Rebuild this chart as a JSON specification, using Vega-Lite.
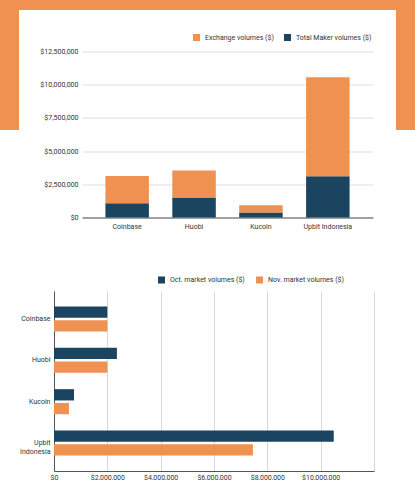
{
  "$schema": "https://vega.github.io/schema/vega-lite/v6.json",
  "padding": 0,
  "background": "white",
  "config": {
    "font": "Roboto",
    "view": {"stroke": null},
    "axis": {"labelFont": "Roboto", "labelFontSize": 7, "labelColor": "#333333", "titleFont": "Roboto"},
    "legend": {"labelFont": "Roboto", "labelFontSize": 7, "labelColor": "#333333"}
  },
  "resolve": {"scale": {"color": "independent"}, "legend": {"color": "independent"}},
  "spacing": 46,
  "vconcat": [
    {
      "spacing": 0,
      "resolve": {"scale": {"color": "independent"}, "legend": {"color": "independent"}},
      "vconcat": [
        {
          "width": 415,
          "height": 10,
          "view": {"fill": "#EF9150", "stroke": null},
          "data": {"values": []},
          "mark": {"type": "point", "opacity": 0}
        },
        {
          "spacing": 23,
          "resolve": {"scale": {"color": "independent"}, "legend": {"color": "independent"}},
          "hconcat": [
            {
              "spacing": 20,
              "resolve": {"scale": {"color": "independent"}, "legend": {"color": "independent"}},
              "hconcat": [
                {
                  "width": 19,
                  "height": 120,
                  "view": {"fill": "#EF9150", "stroke": null},
                  "data": {"values": []},
                  "mark": {"type": "point", "opacity": 0}
                },
                {
                  "spacing": 22.5,
                  "resolve": {"scale": {"color": "independent"}, "legend": {"color": "independent"}},
                  "vconcat": [
                    {
                      "width": 1,
                      "height": 1,
                      "data": {"values": []},
                      "mark": {"type": "point", "opacity": 0}
                    },
                    {
                      "width": 291,
                      "height": 166,
                      "data": {"values": [
                        {"exchange": "Coinbase", "series": "Total Maker volumes ($)", "volume": 1080000},
                        {"exchange": "Coinbase", "series": "Exchange volumes ($)", "volume": 2040000},
                        {"exchange": "Huobi", "series": "Total Maker volumes ($)", "volume": 1510000},
                        {"exchange": "Huobi", "series": "Exchange volumes ($)", "volume": 2020000},
                        {"exchange": "Kucoin", "series": "Total Maker volumes ($)", "volume": 380000},
                        {"exchange": "Kucoin", "series": "Exchange volumes ($)", "volume": 550000},
                        {"exchange": "Upbit Indonesia", "series": "Total Maker volumes ($)", "volume": 3100000},
                        {"exchange": "Upbit Indonesia", "series": "Exchange volumes ($)", "volume": 7470000}
                      ]},
                      "mark": {"type": "bar"},
                      "encoding": {
                        "x": {
                          "field": "exchange", "type": "nominal", "sort": null,
                          "scale": {"paddingInner": 0.35, "paddingOuter": 0.35},
                          "axis": {"title": null, "labelAngle": 0, "ticks": false, "labelPadding": 5, "domainColor": "#555555", "grid": false}
                        },
                        "y": {
                          "field": "volume", "type": "quantitative", "stack": "zero",
                          "scale": {"domain": [0, 12500000], "nice": false},
                          "axis": {"title": null, "values": [0, 2500000, 5000000, 7500000, 10000000, 12500000], "format": "$,.0f", "ticks": false, "domain": false, "labelPadding": 4, "gridColor": "#dddddd"}
                        },
                        "color": {
                          "field": "series", "type": "nominal",
                          "scale": {"domain": ["Exchange volumes ($)", "Total Maker volumes ($)"], "range": ["#EF9150", "#1B4461"]},
                          "legend": {"orient": "none", "legendX": 111, "legendY": -17.5, "direction": "horizontal", "title": null, "symbolType": "square", "symbolSize": 49, "symbolStrokeWidth": 0, "labelOffset": 5, "columnPadding": 10}
                        },
                        "order": {"field": "series", "sort": "descending"}
                      }
                    }
                  ]
                }
              ]
            },
            {
              "width": 20,
              "height": 120,
              "view": {"fill": "#EF9150", "stroke": null},
              "data": {"values": []},
              "mark": {"type": "point", "opacity": 0}
            }
          ]
        }
      ]
    },
    {
      "spacing": 18,
      "resolve": {"scale": {"color": "independent"}, "legend": {"color": "independent"}},
      "hconcat": [
        {
          "width": 1,
          "height": 1,
          "data": {"values": []},
          "mark": {"type": "point", "opacity": 0}
        },
        {
          "width": 320,
          "height": 180,
          "data": {"values": [
            {"exchange": "Coinbase", "month": "Oct. market volumes ($)", "volume": 2000000},
            {"exchange": "Coinbase", "month": "Nov. market volumes ($)", "volume": 2000000},
            {"exchange": "Huobi", "month": "Oct. market volumes ($)", "volume": 2360000},
            {"exchange": "Huobi", "month": "Nov. market volumes ($)", "volume": 2000000},
            {"exchange": "Kucoin", "month": "Oct. market volumes ($)", "volume": 750000},
            {"exchange": "Kucoin", "month": "Nov. market volumes ($)", "volume": 560000},
            {"exchange": "Upbit Indonesia", "month": "Oct. market volumes ($)", "volume": 10490000},
            {"exchange": "Upbit Indonesia", "month": "Nov. market volumes ($)", "volume": 7460000}
          ]},
          "mark": {"type": "bar"},
          "encoding": {
            "y": {
              "field": "exchange", "type": "nominal", "sort": null,
              "scale": {"paddingInner": 0.395, "paddingOuter": 0.372},
              "axis": {"title": null, "ticks": false, "labelPadding": 4, "domainColor": "#555555", "grid": false, "labelExpr": "split(datum.label, ' ')", "labelLineHeight": 9}
            },
            "yOffset": {
              "field": "month", "type": "nominal",
              "sort": ["Oct. market volumes ($)", "Nov. market volumes ($)"],
              "scale": {"paddingInner": 0.18}
            },
            "x": {
              "field": "volume", "type": "quantitative",
              "scale": {"domain": [0, 12000000], "nice": false},
              "axis": {"title": null, "values": [0, 2000000, 4000000, 6000000, 8000000, 10000000, 12000000], "format": "$,.0f", "labelExpr": "datum.value >= 12000000 ? '' : datum.label", "labelFlush": false, "ticks": false, "labelPadding": 2, "domainColor": "#555555", "gridColor": "#d8d8d8"}
            },
            "color": {
              "field": "month", "type": "nominal",
              "scale": {"domain": ["Oct. market volumes ($)", "Nov. market volumes ($)"], "range": ["#1B4461", "#EF9150"]},
              "legend": {"orient": "none", "legendX": 104, "legendY": -14.5, "direction": "horizontal", "title": null, "symbolType": "square", "symbolSize": 49, "symbolStrokeWidth": 0, "labelOffset": 5, "columnPadding": 11}
            }
          }
        }
      ]
    }
  ]
}
